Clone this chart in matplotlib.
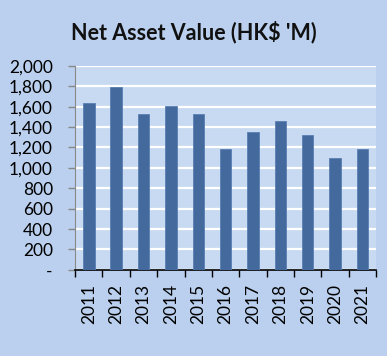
import numpy as np
import matplotlib.pyplot as plt

years = ['2011', '2012', '2013', '2014', '2015', '2016', '2017', '2018', '2019', '2020', '2021']
nav = [1640, 1790, 1530, 1608, 1528, 1183, 1355, 1457, 1325, 1093, 1183]
yticks = [0, 200, 400, 600, 800, 1000, 1200, 1400, 1600, 1800, 2000]
ylabels = ['-' if v == 0 else '{:,}'.format(v) for v in yticks]

plt.rcParams['font.family'] = ['Lato', 'DejaVu Sans']

fig = plt.figure(figsize=(3.87, 3.56), dpi=100)
fig.patch.set_facecolor('#bad0ee')
ax = fig.add_axes([0.194, 0.242, 0.778, 0.573])
ax.set_facecolor('#c8daf1')

x = np.arange(len(years))
ax.bar(x, nav, width=0.42, color='#44699c', edgecolor='#5a7fb3', linewidth=0.6, zorder=3)

ax.set_ylim(0, 2000)
ax.set_xlim(-0.5, len(years) - 0.5)
ax.set_yticks(yticks)
ax.set_yticklabels(ylabels, fontsize=12.5)
ax.yaxis.grid(True, color='white', linewidth=1.6, zorder=1)
ax.set_axisbelow(True)

ax.set_xticks(x)
ax.set_xticklabels(years, rotation=90, fontsize=12.5)
ax.set_xticks(np.arange(-0.5, len(years)), minor=True)
ax.tick_params(axis='x', which='major', length=0, pad=10)
ax.tick_params(axis='x', which='minor', length=5, color='black', width=1)
ax.tick_params(axis='y', length=5, color='#888888', width=1, pad=11)

for s in ['top', 'right']:
    ax.spines[s].set_visible(False)
ax.spines['left'].set_color('#888888')
ax.spines['bottom'].set_color('black')
ax.spines['bottom'].set_linewidth(1.2)

fig.text(0.5, 0.91, "Net Asset Value (HK$ 'M)", ha='center', va='center',
         fontsize=15.5, fontweight='bold', color='#111111')

fig.savefig('out.png', dpi=100, facecolor=fig.get_facecolor())
